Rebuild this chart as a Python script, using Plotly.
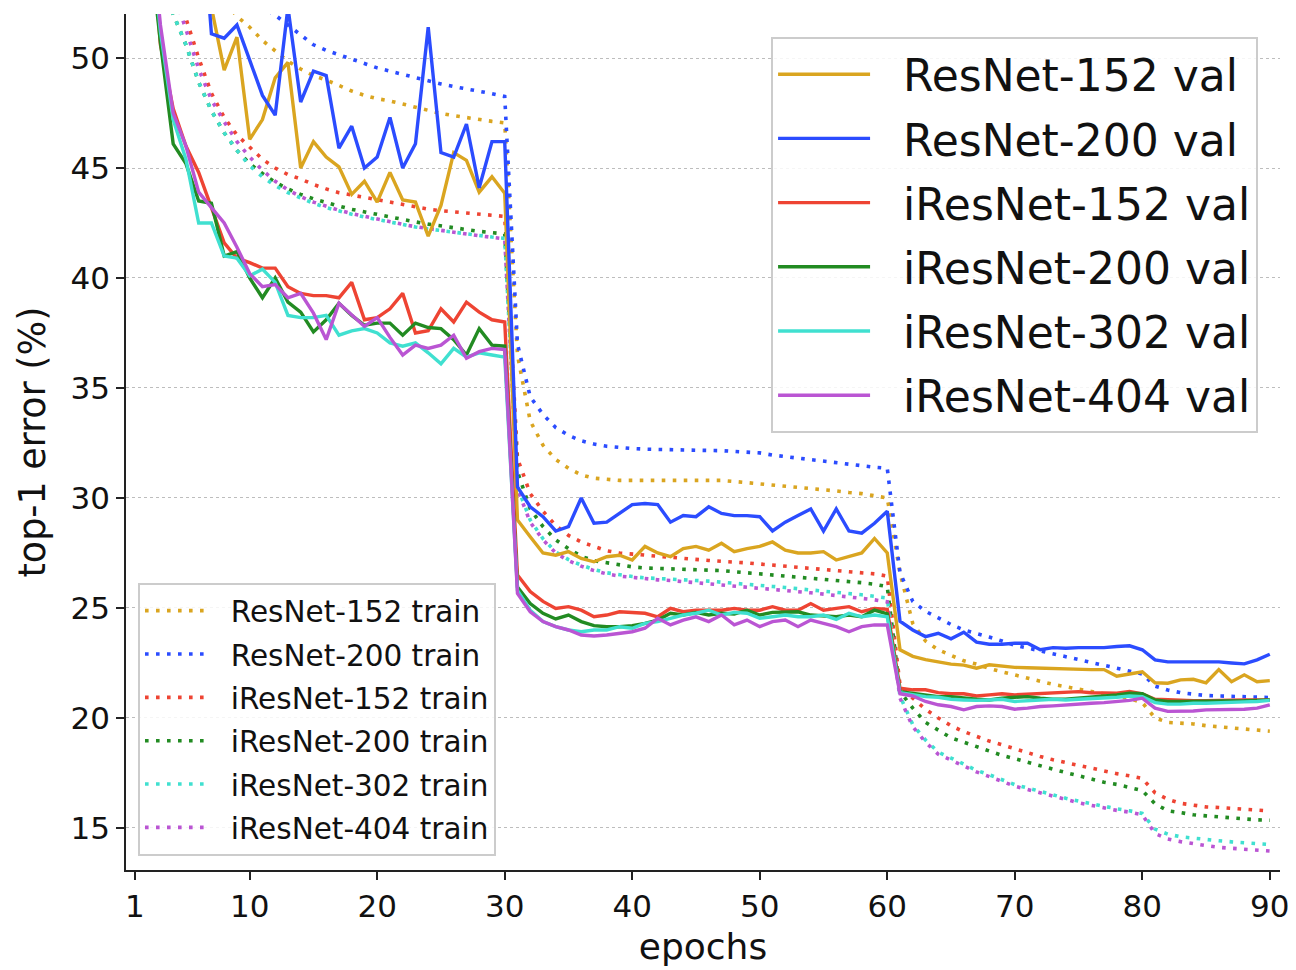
import plotly.graph_objects as go

epochs = list(range(1, 91))
x_tick_vals = [1, 10, 20, 30, 40, 50, 60, 70, 80, 90]
y_tick_vals = [15, 20, 25, 30, 35, 40, 45, 50]

model_names = ["ResNet-152", "ResNet-200", "iResNet-152", "iResNet-200", "iResNet-302", "iResNet-404"]
model_colors = ["#DAA520", "#2B4CFF", "#EE4433", "#228B22", "#40E0D0", "#BA55D3"]

# ---- validation error (solid) ----
resnet152_val = [
    85, 75, 68, 63, 59, 56, 52.3, 49.45, 50.95, 46.3,
    47.2, 49.1, 49.8, 45.0, 46.2, 45.5, 45.05, 43.8, 44.4, 43.45,
    44.8, 43.55, 43.45, 41.9, 43.3, 45.7, 45.35, 43.9, 44.6, 43.85,
    29.0, 28.24, 27.5, 27.4, 27.56, 27.25, 27.1, 27.33, 27.4, 27.18,
    27.8, 27.5, 27.33, 27.7, 27.8, 27.63, 27.94, 27.56, 27.7, 27.8,
    28.0, 27.63, 27.5, 27.5, 27.56, 27.18, 27.33, 27.5, 28.16, 27.5,
    23.1, 22.8, 22.65, 22.55, 22.45, 22.4, 22.26, 22.42, 22.35, 22.3,
    22.28, 22.26, 22.24, 22.24, 22.22, 22.2, 22.2, 21.9, 22.0, 22.1,
    21.6, 21.58, 21.73, 21.76, 21.6, 22.2, 21.65, 21.96, 21.65, 21.7,
]
resnet200_val = [
    88, 80, 74, 68, 62, 58.6, 51.1, 50.9, 51.5, 49.9,
    48.3, 47.4, 52.3, 48.0, 49.4, 49.2, 45.9, 46.9, 45.0, 45.5,
    47.3, 45.0, 46.1, 51.4, 45.7, 45.5, 47.0, 44.1, 46.2, 46.2,
    30.5, 29.6, 29.15, 28.5, 28.7, 30.0, 28.85, 28.9, 29.3, 29.7,
    29.75, 29.7, 28.9, 29.2, 29.15, 29.6, 29.3, 29.2, 29.2, 29.15,
    28.5, 28.9, 29.2, 29.5, 28.5, 29.5, 28.5, 28.4, 28.85, 29.4,
    24.4, 24.0, 23.7, 23.85, 23.6, 23.9, 23.45, 23.35, 23.35, 23.4,
    23.4, 23.1, 23.2, 23.17, 23.2, 23.2, 23.2, 23.25, 23.28, 23.1,
    22.64, 22.55, 22.55, 22.55, 22.55, 22.55, 22.5, 22.46, 22.64, 22.9,
]
iresnet152_val = [
    72, 58, 50.6, 47.7, 46.0, 44.8, 43.2, 41.6, 40.9, 40.7,
    40.45, 40.45, 39.6, 39.3, 39.2, 39.2, 39.1, 39.8, 38.1, 38.2,
    38.6, 39.3, 37.5, 37.6, 38.6, 38.0, 38.9, 38.45, 38.1, 38.0,
    26.5, 25.75, 25.3, 24.98, 25.06, 24.9, 24.6, 24.68, 24.83, 24.8,
    24.76, 24.6, 24.98, 24.83, 24.9, 24.9, 24.9, 24.98, 24.9, 24.9,
    25.06, 24.9, 24.9, 25.2, 24.9, 24.98, 25.06, 24.83, 24.98, 24.94,
    21.35, 21.28, 21.28, 21.15, 21.1, 21.1, 21.0, 21.05, 21.1, 21.05,
    21.08, 21.08, 21.13, 21.15, 21.2, 21.15, 21.13, 21.13, 21.2, 21.1,
    20.85, 20.82, 20.8, 20.78, 20.78, 20.8, 20.8, 20.82, 20.82, 20.82,
]
iresnet200_val = [
    72, 56, 50.7, 46.1, 45.2, 43.5, 43.4, 41.0, 41.2, 40.0,
    39.1, 40.0, 38.9, 38.45, 37.55, 38.1, 38.85, 38.3, 37.85, 37.95,
    37.95, 37.4, 37.95, 37.75, 37.7, 37.2, 36.5, 37.7, 36.95, 36.9,
    25.95, 25.2, 24.76, 24.5, 24.68, 24.38, 24.2, 24.15, 24.15, 24.2,
    24.3, 24.45, 24.76, 24.68, 24.8, 24.68, 24.76, 24.73, 24.9, 24.68,
    24.8, 24.83, 24.83, 24.68, 24.63, 24.6, 24.68, 24.6, 24.9, 24.73,
    21.2, 21.13, 21.05, 20.97, 20.97, 20.9, 20.85, 20.82, 20.9, 20.94,
    20.97, 20.9, 20.85, 20.85, 20.9, 20.94, 20.97, 21.05, 21.13, 21.1,
    20.82, 20.75, 20.75, 20.75, 20.78, 20.75, 20.78, 20.78, 20.8, 20.82,
]
iresnet302_val = [
    72, 57, 51.2, 47.2, 45.4, 42.5, 42.5, 41.0, 40.9, 40.1,
    40.4, 39.8, 38.3, 38.2, 38.2, 38.3, 37.4, 37.6, 37.7, 37.5,
    37.05, 36.9, 37.05, 36.6, 36.1, 36.8, 36.4, 36.6, 36.5, 36.4,
    25.8, 24.9, 24.38, 24.15, 24.0, 23.92, 24.0, 24.0, 24.15, 24.08,
    24.3, 24.38, 24.53, 24.68, 24.76, 24.9, 24.68, 24.8, 24.76, 24.53,
    24.6, 24.68, 24.6, 24.6, 24.68, 24.48, 24.76, 24.6, 24.68, 24.6,
    21.15, 21.05, 20.97, 20.94, 20.85, 20.82, 20.8, 20.82, 20.85, 20.75,
    20.8, 20.82, 20.85, 20.82, 20.85, 20.88, 20.9, 20.94, 21.0, 20.97,
    20.7, 20.63, 20.63, 20.67, 20.67, 20.7, 20.7, 20.73, 20.75, 20.8,
]
iresnet404_val = [
    72, 57.5, 51.5, 47.5, 46.0, 43.9, 43.2, 42.5, 41.4, 40.2,
    39.6, 39.7, 39.1, 39.3, 38.4, 37.2, 38.85, 38.3, 37.8, 38.2,
    37.3, 36.5, 36.95, 36.8, 36.95, 37.4, 36.35, 36.65, 36.8, 36.75,
    25.66, 24.83, 24.38, 24.15, 24.0, 23.77, 23.73, 23.77, 23.85, 23.92,
    24.08, 24.53, 24.23, 24.45, 24.6, 24.38, 24.68, 24.23, 24.45, 24.15,
    24.38, 24.45, 24.15, 24.45, 24.3, 24.15, 23.92, 24.15, 24.23, 24.23,
    21.1, 21.0, 20.75, 20.6, 20.52, 20.37, 20.52, 20.55, 20.52, 20.4,
    20.45, 20.52, 20.55, 20.6, 20.64, 20.67, 20.7, 20.75, 20.8, 20.9,
    20.45, 20.3, 20.3, 20.32, 20.37, 20.37, 20.37, 20.4, 20.45, 20.6,
]

# ---- training error (dotted) ----
resnet152_train = [
    80, 70, 64, 60, 57, 55, 53.6, 52.6, 51.9, 51.4,
    50.8, 50.3, 49.85, 49.5, 49.2, 49.0, 48.75, 48.5, 48.3, 48.15,
    48.05, 47.9, 47.75, 47.6, 47.48, 47.38, 47.28, 47.2, 47.12, 47.05,
    36.5, 33.5, 32.4, 31.75, 31.35, 31.05, 30.9, 30.85, 30.8, 30.8,
    30.8, 30.8, 30.8, 30.8, 30.8, 30.8, 30.8, 30.75, 30.7, 30.65,
    30.6, 30.55, 30.5, 30.45, 30.4, 30.32, 30.25, 30.2, 30.1, 30.0,
    26.6, 24.3, 23.5, 23.1, 22.85, 22.6, 22.45, 22.25, 22.1, 21.95,
    21.82, 21.67, 21.53, 21.42, 21.32, 21.22, 21.12, 21.0, 20.88, 20.7,
    20.0, 19.8, 19.77, 19.73, 19.65, 19.6, 19.55, 19.52, 19.48, 19.4,
]
resnet200_train = [
    85, 75, 68, 63, 60, 58, 56.2, 54.8, 53.7, 52.9,
    52.3, 51.95, 51.5, 51.0, 50.6, 50.35, 50.15, 49.95, 49.75, 49.55,
    49.4, 49.25, 49.08, 48.95, 48.82, 48.7, 48.6, 48.48, 48.38, 48.25,
    37.0, 34.6, 33.8, 33.2, 32.85, 32.6, 32.45, 32.35, 32.28, 32.25,
    32.22, 32.2, 32.2, 32.2, 32.18, 32.16, 32.15, 32.13, 32.1, 32.05,
    31.95, 31.88, 31.8, 31.72, 31.65, 31.58, 31.52, 31.45, 31.4, 31.35,
    26.6, 25.3, 24.85, 24.55, 24.25, 24.0, 23.85, 23.68, 23.5, 23.3,
    23.18, 23.05, 22.92, 22.8, 22.65, 22.52, 22.4, 22.28, 22.17, 22.0,
    21.45, 21.27, 21.15, 21.07, 21.02, 21.0, 20.97, 20.95, 20.95, 20.93,
]
iresnet152_train = [
    70, 62, 56.5, 53.5, 51.8, 50.0, 48.4, 47.3, 46.5, 45.95,
    45.4, 45.0, 44.7, 44.5, 44.25, 44.05, 43.88, 43.77, 43.68, 43.56,
    43.45, 43.33, 43.22, 43.13, 43.06, 43.0, 42.94, 42.9, 42.85, 42.8,
    31.8, 30.2, 29.4, 28.75, 28.3, 28.0, 27.8, 27.6, 27.5, 27.45,
    27.38, 27.32, 27.27, 27.22, 27.2, 27.16, 27.12, 27.1, 27.05, 27.0,
    26.95, 26.9, 26.85, 26.8, 26.75, 26.7, 26.65, 26.6, 26.55, 26.45,
    21.5, 20.9, 20.4, 20.0, 19.65, 19.38, 19.15, 18.95, 18.78, 18.6,
    18.4, 18.25, 18.1, 17.97, 17.85, 17.73, 17.6, 17.47, 17.37, 17.25,
    16.6, 16.3, 16.12, 16.02, 15.96, 15.93, 15.9, 15.86, 15.82, 15.77,
]
iresnet200_train = [
    67, 59, 54, 52.0, 50.6, 48.9, 47.6, 46.6, 45.8, 45.2,
    44.75, 44.35, 44.05, 43.8, 43.6, 43.42, 43.27, 43.12, 43.0, 42.87,
    42.76, 42.65, 42.55, 42.45, 42.36, 42.28, 42.2, 42.12, 42.06, 42.0,
    31.2, 29.5, 28.7, 28.1, 27.7, 27.35, 27.15, 27.05, 26.95, 26.87,
    26.82, 26.8, 26.8, 26.78, 26.75, 26.72, 26.7, 26.65, 26.6, 26.55,
    26.5, 26.45, 26.4, 26.35, 26.32, 26.28, 26.22, 26.15, 26.08, 25.97,
    21.2, 20.45, 19.8, 19.45, 19.1, 18.9, 18.7, 18.5, 18.3, 18.15,
    17.98, 17.82, 17.67, 17.52, 17.37, 17.22, 17.08, 16.98, 16.86, 16.7,
    16.1, 15.78, 15.7, 15.6, 15.55, 15.5, 15.45, 15.4, 15.37, 15.35,
]
iresnet302_train = [
    67, 59, 54, 52.0, 50.6, 48.9, 47.6, 46.6, 45.8, 45.1,
    44.6, 44.2, 43.88, 43.62, 43.4, 43.2, 43.04, 42.9, 42.77, 42.65,
    42.53, 42.42, 42.32, 42.23, 42.15, 42.07, 42.0, 41.93, 41.86, 41.8,
    30.5, 29.0, 28.15, 27.55, 27.2, 26.95, 26.75, 26.6, 26.5, 26.43,
    26.37, 26.33, 26.3, 26.27, 26.25, 26.22, 26.18, 26.13, 26.08, 26.03,
    25.98, 25.93, 25.88, 25.83, 25.78, 25.72, 25.66, 25.6, 25.53, 25.45,
    21.0, 19.7, 19.0, 18.45, 18.18, 17.9, 17.62, 17.42, 17.2, 16.97,
    16.82, 16.65, 16.5, 16.35, 16.22, 16.1, 15.97, 15.87, 15.78, 15.66,
    14.95, 14.72, 14.6, 14.53, 14.47, 14.42, 14.37, 14.33, 14.29, 14.25,
]
iresnet404_train = [
    69, 61, 55.5, 53.0, 51.3, 49.5, 48.1, 47.1, 46.2, 45.5,
    44.9, 44.4, 44.0, 43.7, 43.45, 43.25, 43.08, 42.93, 42.8, 42.67,
    42.55, 42.44, 42.33, 42.24, 42.15, 42.07, 42.0, 41.92, 41.85, 41.78,
    30.4, 28.9, 28.1, 27.5, 27.15, 26.9, 26.7, 26.55, 26.45, 26.38,
    26.32, 26.28, 26.25, 26.2, 26.17, 26.13, 26.08, 26.03, 25.98, 25.93,
    25.87, 25.81, 25.75, 25.69, 25.63, 25.57, 25.5, 25.44, 25.37, 25.28,
    20.9, 19.6, 18.9, 18.35, 18.1, 17.82, 17.55, 17.35, 17.12, 16.9,
    16.75, 16.58, 16.43, 16.28, 16.15, 16.03, 15.9, 15.8, 15.72, 15.6,
    14.75, 14.5, 14.38, 14.27, 14.2, 14.12, 14.08, 14.03, 13.98, 13.95,
]

val_series = [resnet152_val, resnet200_val, iresnet152_val, iresnet200_val, iresnet302_val, iresnet404_val]
train_series = [resnet152_train, resnet200_train, iresnet152_train, iresnet200_train, iresnet302_train, iresnet404_train]

FONT = "DejaVu Sans"
GAP = "\u00a0\u00a0"
fig = go.Figure()

for name, color, ys in zip(model_names, model_colors, train_series):
    fig.add_trace(go.Scatter(
        x=epochs, y=ys, mode="lines", name=GAP + name + " train",
        line=dict(color=color, width=3.6, dash="3.6px,7.4px"),
        legend="legend2", legendgroup=name + " train",
    ))

for name, color, ys in zip(model_names, model_colors, val_series):
    fig.add_trace(go.Scatter(
        x=epochs, y=ys, mode="lines", name=GAP + name + " val",
        line=dict(color=color, width=3.4),
        legend="legend", legendgroup=name + " val",
    ))

# the page body adds an 8px offset, so the figure is 8px smaller than the window
fig.update_layout(
    width=1288, height=962,
    margin=dict(l=118, r=16, t=6, b=100, autoexpand=False),
    plot_bgcolor="white", paper_bgcolor="white",
    font=dict(family=FONT, color="#111111", size=31),
    xaxis=dict(
        range=[0.3, 90.8], tickmode="array", tickvals=x_tick_vals,
        ticks="outside", ticklen=8, tickwidth=1.5, tickcolor="#222",
        showline=True, linecolor="#222", linewidth=1.5,
        showgrid=False, zeroline=False, automargin=False,
        tickfont=dict(size=31, family=FONT),
        title=dict(text="epochs", font=dict(size=36, family=FONT), standoff=11),
    ),
    yaxis=dict(
        range=[13.09, 52.0], tickmode="array", tickvals=y_tick_vals,
        ticks="outside", ticklen=8, tickwidth=1.5, tickcolor="#222",
        showline=True, linecolor="#222", linewidth=1.5,
        showgrid=True, gridcolor="#bdbdbd", griddash="dot", gridwidth=1.2,
        zeroline=False, automargin=False,
        tickfont=dict(size=31, family=FONT),
        title=dict(text="top-1 error (%)", font=dict(size=36.5, family=FONT), standoff=14),
    ),
    legend=dict(
        x=0.981, xanchor="right", y=0.973, yanchor="top",
        font=dict(size=44, family=FONT, color="#111"),
        bgcolor="rgba(255,255,255,0.85)", bordercolor="#cccccc", borderwidth=2,
        itemwidth=92, tracegroupgap=4, traceorder="grouped",
    ),
    legend2=dict(
        x=0.0104, xanchor="left", y=0.0164, yanchor="bottom",
        font=dict(size=29.5, family=FONT, color="#111"),
        bgcolor="rgba(255,255,255,0.85)", bordercolor="#cccccc", borderwidth=2,
        itemwidth=62, tracegroupgap=2, traceorder="grouped",
    ),
)

fig.write_html("out.html")
